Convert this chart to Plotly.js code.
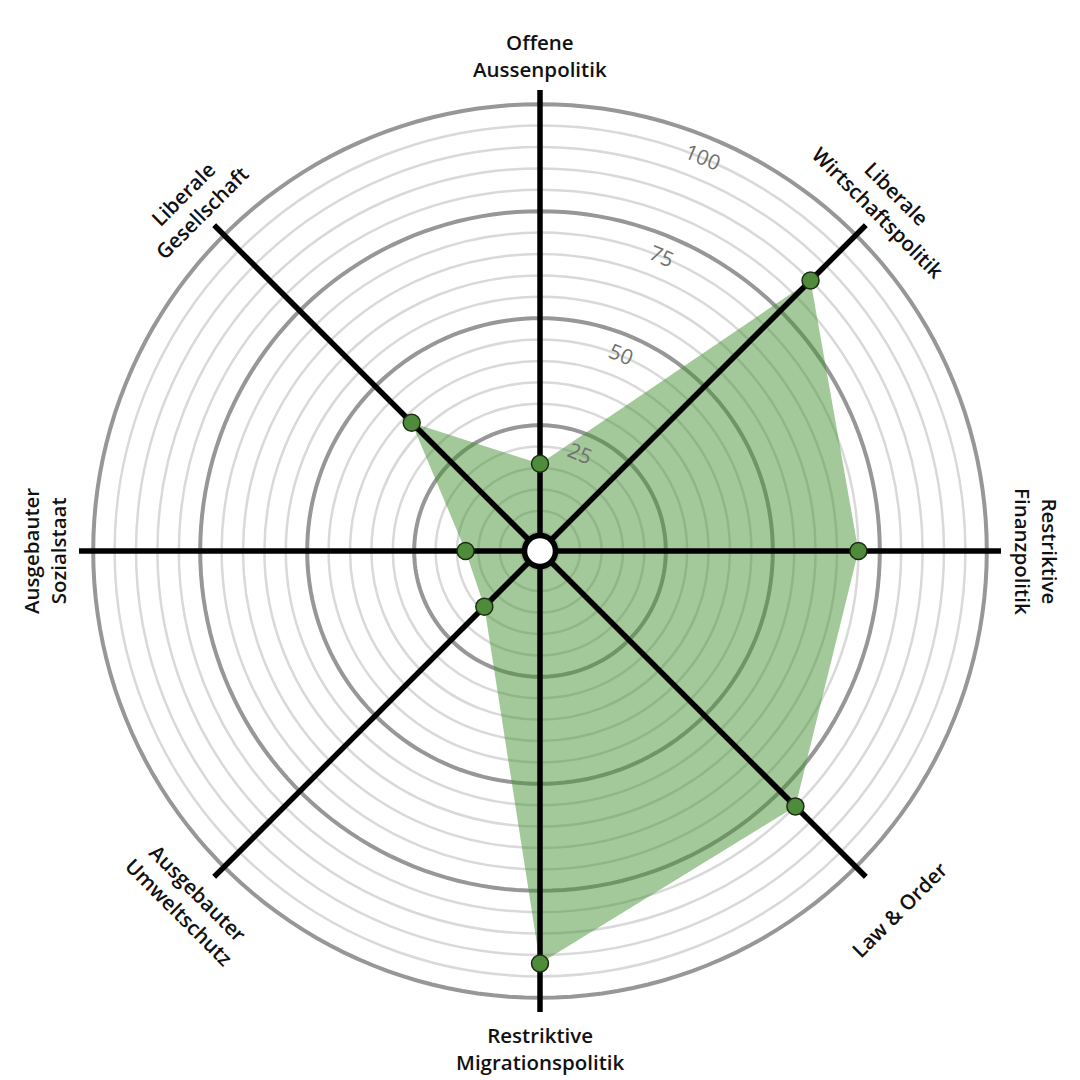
<!DOCTYPE html>
<html>
<head>
<meta charset="utf-8">
<script src="https://cdn.plot.ly/plotly-3.0.1.min.js"></script>
<style>html,body{margin:0;padding:0;background:#fff}#chart{width:1080px;height:1080px}</style>
</head>
<body>
<div id="chart"></div>
<script>
// ---- data ----
const categories = ["Offene<br>Aussenpolitik", "Liberale<br>Wirtschaftspolitik", "Restriktive<br>Finanzpolitik", "Law &amp; Order", "Restriktive<br>Migrationspolitik", "Ausgebauter<br>Umweltschutz", "Ausgebauter<br>Sozialstaat", "Liberale<br>Gesellschaft"];
const values = [16, 85, 70, 80, 92, 14, 13, 38];
const radialTicks = [25, 50, 75, 100];
const radialTickLabels = ["25", "50", "75", "100"];

// ---- geometry ----
const W = 1080, H = 1080;
const CX = 540, CY = 551;        // centre in pixels
const R_OUT = 461;               // outer radius in pixels
const PX_PER_UNIT = 4.28;
const R0 = 18.8;                 // pixel radius of value 0
const rMin = -R0 / PX_PER_UNIT;
const rMax = (R_OUT - R0) / PX_PER_UNIT;
const n = categories.length;
const thetas = categories.map((c, i) => i * 360 / n);

function toPx(rpx, angDegClockFromTop) {
  const a = angDegClockFromTop * Math.PI / 180;
  return {x: CX + rpx * Math.sin(a), y: CY - rpx * Math.cos(a)};
}

const traces = [];
// dark reference circles
const circTheta = [];
for (let t = 0; t <= 360; t += 2) circTheta.push(t);
radialTicks.forEach(v => {
  traces.push({type: 'scatterpolar', mode: 'lines', r: circTheta.map(() => v), theta: circTheta,
    line: {color: '#979797', width: 4}, hoverinfo: 'skip', showlegend: false});
});
// filled polygon
traces.push({type: 'scatterpolar', mode: 'none', r: values.concat([values[0]]), theta: thetas.concat([thetas[0]]),
  fill: 'toself', fillcolor: 'rgba(72,145,52,0.5)', hoverinfo: 'skip', showlegend: false});
// axis spokes
thetas.forEach(t => {
  traces.push({type: 'scatterpolar', mode: 'lines', r: [rMin, rMax], theta: [t, t],
    line: {color: '#000', width: 5.5}, hoverinfo: 'skip', showlegend: false});
});
// data markers
traces.push({type: 'scatterpolar', mode: 'markers', r: values, theta: thetas,
  marker: {size: 17, color: '#4e8b3a', line: {color: '#1c2c14', width: 1.5}}, showlegend: false});
// centre circle
traces.push({type: 'scatterpolar', mode: 'markers', r: [rMin], theta: [0],
  marker: {size: 31, color: '#fff', line: {color: '#000', width: 5.5}}, hoverinfo: 'skip', showlegend: false});

const annotations = [];
// category labels
const labelAngles = [0, 45, 90, -45, 0, 45, -90, -45];
const labelRadius = [496, 492, 497, 507, 497, 497, 496, 492];
categories.forEach((c, i) => {
  const p = toPx(labelRadius[i], thetas[i]);
  annotations.push({text: c, x: p.x / W, y: 1 - p.y / H, xref: 'paper', yref: 'paper', xanchor: 'center', yanchor: 'middle',
    showarrow: false, textangle: labelAngles[i], align: 'center', borderpad: 0,
    font: {family: '"Open Sans", sans-serif', size: 20.5, color: '#111', weight: 600}});
});
// radial tick labels
radialTicks.forEach((v, i) => {
  const p = toPx(R0 + v * PX_PER_UNIT - 20, 22.5);
  annotations.push({text: radialTickLabels[i], x: p.x / W, y: 1 - p.y / H, xref: 'paper', yref: 'paper', xanchor: 'center', yanchor: 'middle',
    showarrow: false, textangle: 22.5, font: {family: '"Open Sans", sans-serif', size: 21, color: '#707070'}});
});

const layout = {
  width: W, height: H,
  margin: {l: 0, r: 0, t: 0, b: 0},
  paper_bgcolor: '#fff',
  showlegend: false,
  polar: {
    domain: {x: [(CX - R_OUT) / W, (CX + R_OUT) / W], y: [(H - CY - R_OUT) / H, (H - CY + R_OUT) / H]},
    bgcolor: '#fff',
    radialaxis: {range: [rMin, rMax], tick0: 0, dtick: 5, showticklabels: false, ticks: '', showline: false,
      gridcolor: '#d9d9d9', gridwidth: 2.5, layer: 'below traces'},
    angularaxis: {type: 'linear', direction: 'clockwise', rotation: 90, showgrid: false, showline: false,
      showticklabels: false, ticks: '', layer: 'below traces'}
  },
  annotations: annotations
};

Plotly.newPlot('chart', traces, layout, {staticPlot: true});
</script>
</body>
</html>
